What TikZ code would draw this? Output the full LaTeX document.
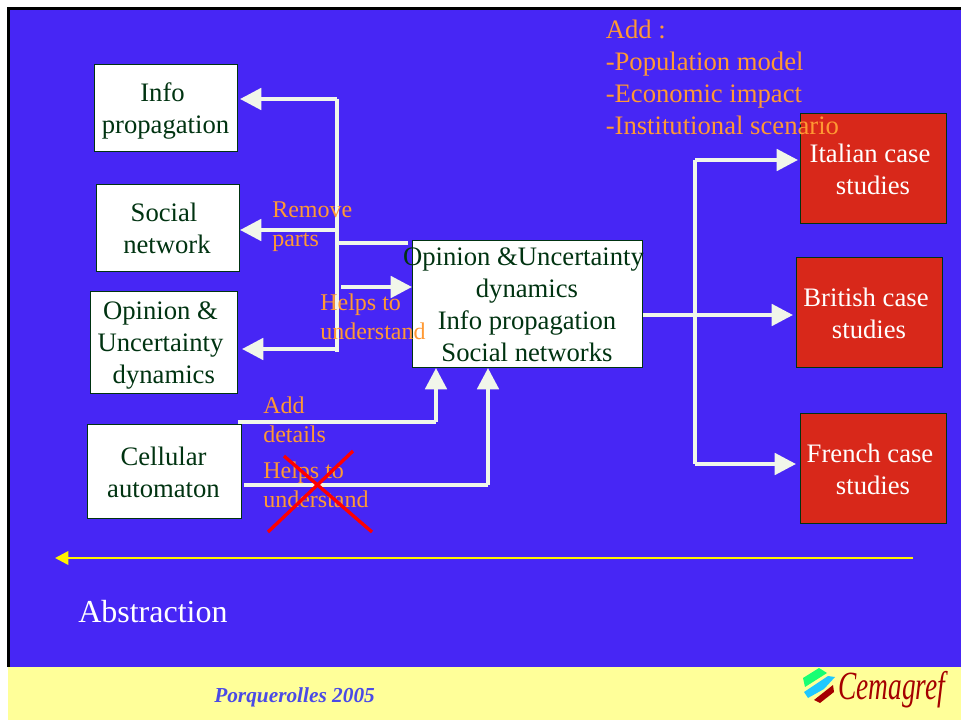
\documentclass[tikz,border=0pt]{standalone}
\usepackage{fontspec}
\setmainfont{Liberation Serif}
\usetikzlibrary{arrows.meta}
\definecolor{slideblue}{HTML}{4726F5}
\definecolor{footyellow}{HTML}{FFFF99}
\definecolor{boxgreen}{HTML}{003311}
\definecolor{caseRed}{HTML}{D8281A}
\definecolor{noteorange}{HTML}{FF9933}
\definecolor{linkwhite}{HTML}{F1F6EA}
\definecolor{logored}{HTML}{A50000}
\definecolor{logogreen}{HTML}{19FF73}
\definecolor{logocyan}{HTML}{1FC8FF}
\definecolor{footblue}{HTML}{4A4AE6}
\begin{document}
\begin{tikzpicture}[x=0.75pt, y=-0.75pt,
        every node/.style={font=\fontsize{20}{24}\selectfont, align=center},
        model/.style={draw=boxgreen, line width=0.75pt, fill=white, text=boxgreen, inner sep=0pt, anchor=north west},
        casebox/.style={draw=boxgreen, line width=0.5pt, fill=caseRed, inner sep=0pt, anchor=north west},
        note/.style={text=noteorange, align=left, anchor=north west, inner sep=0pt, font=\fontsize{18}{21.75}\selectfont},
        link/.style={draw=linkwhite, line width=3pt},
        arrow/.style={link, -{Triangle[length=16pt, width=16pt]}}]
    \useasboundingbox (0,0) rectangle (961,720);
    \fill[white] (0,0) rectangle (961,720);
    \fill[slideblue] (8,8) rectangle (961,667);
    \draw[black, line width=2.25pt] (8,667) -- (8,8.5) -- (961,8.5);
    \fill[footyellow] (8,667) rectangle (961,720);

    \node[model, minimum width=107.25pt, minimum height=65.25pt] (info) at (94,64) {};
    \node[model, minimum width=107.25pt, minimum height=65.25pt] (social) at (96,184) {};
    \node[model, minimum width=110.25pt, minimum height=76.5pt] (opinion) at (90,291) {};
    \node[model, minimum width=115.5pt, minimum height=70.5pt] (cellular) at (87,424) {};
    \node[model, minimum width=172.5pt, minimum height=95.25pt] (central) at (412,240) {};
    \node[casebox, minimum width=109.5pt, minimum height=82.5pt] (italian) at (800,113) {};
    \node[casebox, minimum width=109.5pt, minimum height=82.5pt] (british) at (796,257) {};
    \node[casebox, minimum width=109.5pt, minimum height=82.5pt] (french) at (800,413) {};

    \coordinate (topjoin) at (337,99);
    \coordinate (botjoin) at (337,352);
    \coordinate (socialjoin) at (337,230);
    \coordinate (opinionjoin) at (337,349);
    \coordinate (removejoin) at (337,243);
    \coordinate (removeend) at (408,243);
    \coordinate (helpsstart) at (341,287);
    \coordinate (addstart) at (238,422);
    \coordinate (addjoin) at (436,422);
    \coordinate (understandstart) at (244,485);
    \coordinate (understandjoin) at (488,485);
    \coordinate (casejoin) at (695,315);
    \coordinate (italianjoin) at (695,160);
    \coordinate (frenchjoin) at (695,464);
    \coordinate (abstractright) at (913,558);
    \coordinate (abstractleft) at (55,558);

    \draw[link] (topjoin) -- (botjoin);
    \draw[link] (removeend) -- (removejoin);
    \draw[arrow] (topjoin) -- (240,99);
    \draw[arrow] (socialjoin) -- (social.east |- socialjoin);
    \draw[arrow] (opinionjoin) -- (242,349);
    \draw[arrow] (helpsstart) -- (central.west |- helpsstart);
    \draw[link] (addstart) -- (addjoin);
    \draw[arrow] (addjoin) -- (central.south -| addjoin);
    \draw[link] (understandstart) -- (understandjoin);
    \draw[arrow] (understandjoin) -- (central.south -| understandjoin);
    \draw[link] (central.east |- casejoin) -- (casejoin);
    \draw[link] (italianjoin) -- (frenchjoin);
    \draw[arrow] (italianjoin) -- (798,160);
    \draw[arrow] (casejoin) -- (793,315);
    \draw[arrow] (frenchjoin) -- (796,464);
    \draw[yellow, line width=1.9pt, -{Triangle[length=10pt, width=10pt]}] (abstractright) -- (abstractleft);

    \node[text=boxgreen] (infotext) at (165.5,110.5) {Info\kern4.5pt\\propagation};
    \node[text=boxgreen] (socialtext) at (167,228) {Social\kern4.5pt\\network};
    \node[text=boxgreen] (opiniontext) at (160.5,346) {Opinion \&\\Uncertainty\\\kern5pt dynamics};
    \node[text=boxgreen] (cellulartext) at (163.5,472) {Cellular\\automaton};
    \node[text=boxgreen] (centraltext) at (527,305) {Opinion \&Uncertainty\kern5.25pt\\dynamics\\Info propagation\\Social networks};

    \node[note] (remove) at (272,202) {Remove\\parts};
    \node[note] (helps) at (320,294) {Helps to\\understand};
    \node[note] (add) at (263,397) {Add\\details};
    \node[note] (helpscell) at (263,462) {Helps to\\understand};
    \node[note, font=\fontsize{20}{24}\selectfont] (additions) at (605.5,20) {Add :\\-Population model\\-Economic impact\\-Institutional scenario};

    \node[text=white] (italiantext) at (873,169) {Italian case\kern4.5pt\\studies};
    \node[text=white] (britishtext) at (869,313) {British case\kern4.5pt\\studies};
    \node[text=white] (frenchtext) at (873,469.5) {French case\kern4.5pt\\studies};

    \coordinate (crossa) at (284,456);
    \coordinate (crossb) at (372,532);
    \coordinate (crossc) at (353,451);
    \coordinate (crossd) at (268,532);
    \draw[red, line width=2.5pt] (crossa) -- (crossb);
    \draw[red, line width=2.5pt] (crossc) -- (crossd);

    \node[text=white, font=\fontsize{24}{28}\selectfont, anchor=west, inner sep=0pt] (abstraction) at (78,612) {Abstraction};
    \node[text=footblue, font=\fontsize{16}{18}\selectfont\bfseries\itshape, anchor=west, inner sep=0pt] (footer) at (214,697) {Porquerolles 2005};

    % logo
    \fill[logogreen] (803,678) -- (819,668) -- (827,673) -- (805,687) -- cycle;
    \fill[logocyan] (804,692) -- (828,676) -- (835,677) -- (824,689) -- (808,698) -- cycle;
    \fill[logored] (814,700) -- (833,685) -- (834,692) -- (820,703) -- cycle;
    \node[text=logored, font=\fontsize{30}{30}\selectfont\itshape, anchor=west, inner sep=0pt] (cemagref) at (838,690) {\resizebox{80.25pt}{\height}{Cemagref}};
\end{tikzpicture}
\end{document}
